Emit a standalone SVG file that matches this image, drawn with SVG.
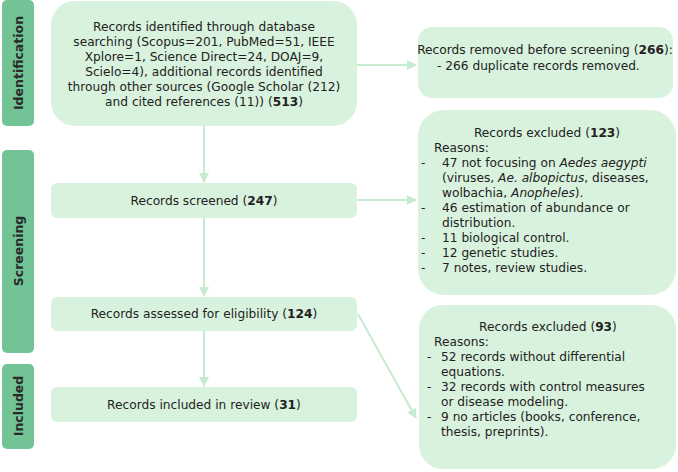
<svg xmlns="http://www.w3.org/2000/svg" width="678" height="472" viewBox="0 0 678 472">
<style>
.box{fill:#d9f2de}
.side{fill:#72c497}
text{font-family:"DejaVu Sans","Liberation Sans",sans-serif;font-size:12.2px;fill:#222}
.c{text-anchor:middle}
.s{font-weight:bold;font-size:12.5px;fill:#2a2a2a;text-anchor:middle}
.con{stroke:#c6ecd0;stroke-width:2;fill:none;marker-end:url(#ah)}
</style>
<defs><marker id="ah" viewBox="0 0 10 10" refX="9" refY="5" markerWidth="5" markerHeight="5" orient="auto"><path d="M0,0L10,5L0,10z" fill="#c6ecd0"/></marker></defs>
<g id="side-identification"><rect class="side" x="2" y="0" width="32" height="126" rx="5"/><text class="s" transform="translate(23,63) rotate(-90)">Identification</text></g>
<g id="side-screening"><rect class="side" x="2" y="150" width="32" height="203" rx="5"/><text class="s" transform="translate(23,251) rotate(-90)">Screening</text></g>
<g id="side-included"><rect class="side" x="2" y="364" width="32" height="85" rx="5"/><text class="s" transform="translate(23,406) rotate(-90)">Included</text></g>
<g id="connectors">
<path class="con" d="M204,126V182"/>
<path class="con" d="M204,218V296"/>
<path class="con" d="M204,331V386"/>
<path class="con" d="M357,65H416"/>
<path class="con" d="M357,200H416"/>
<path class="con" d="M358,314L416,418"/>
</g>
<g id="identified"><rect class="box" x="51" y="1" width="306" height="125" rx="24"/>
<text class="c" x="204" y="31">Records identified through database</text>
<text class="c" x="204" y="46">searching (Scopus=201, PubMed=51, IEEE</text>
<text class="c" x="204" y="61">Xplore=1, Science Direct=24, DOAJ=9,</text>
<text class="c" x="204" y="76">Scielo=4), additional records identified</text>
<text class="c" x="204" y="91">through other sources (Google Scholar (212)</text>
<text class="c" x="204" y="106">and cited references (11)) (<tspan font-weight="bold">513</tspan>)</text></g>
<g id="removed"><rect class="box" x="418" y="27" width="255" height="71" rx="14"/>
<text class="c" x="545" y="54">Records removed before screening (<tspan font-weight="bold">266</tspan>):</text>
<text x="437" y="70">-  266 duplicate records removed.</text></g>
<g id="screened"><rect class="box" x="51" y="183" width="306" height="35" rx="6"/>
<text class="c" x="204" y="205">Records screened (<tspan font-weight="bold">247</tspan>)</text></g>
<g id="excluded123"><rect class="box" x="418" y="110" width="258" height="185" rx="26"/>
<text class="c" x="547" y="137">Records excluded (<tspan font-weight="bold">123</tspan>)</text>
<text x="434" y="152">Reasons:</text>
<text x="421" y="167">-</text><text x="442" y="167">47 not focusing on <tspan font-style="italic">Aedes aegypti</tspan></text>
<text x="442" y="182">(viruses, <tspan font-style="italic">Ae. albopictus</tspan>, diseases,</text>
<text x="442" y="197">wolbachia, <tspan font-style="italic">Anopheles</tspan>).</text>
<text x="421" y="212">-</text><text x="442" y="212">46 estimation of abundance or</text>
<text x="442" y="227">distribution.</text>
<text x="421" y="242">-</text><text x="442" y="242">11 biological control.</text>
<text x="421" y="257">-</text><text x="442" y="257">12 genetic studies.</text>
<text x="421" y="272">-</text><text x="442" y="272">7 notes, review studies.</text></g>
<g id="eligibility"><rect class="box" x="51" y="297" width="306" height="34" rx="6"/>
<text class="c" x="204" y="318">Records assessed for eligibility (<tspan font-weight="bold">124</tspan>)</text></g>
<g id="included"><rect class="box" x="51" y="387" width="306" height="35" rx="6"/>
<text class="c" x="204" y="409">Records included in review (<tspan font-weight="bold">31</tspan>)</text></g>
<g id="excluded93"><rect class="box" x="419" y="305" width="257" height="164" rx="24"/>
<text class="c" x="548" y="331">Records excluded (<tspan font-weight="bold">93</tspan>)</text>
<text x="434" y="346">Reasons:</text>
<text x="427" y="361">-</text><text x="441" y="361">52 records without differential</text>
<text x="441" y="376">equations.</text>
<text x="427" y="391">-</text><text x="441" y="391">32 records with control measures</text>
<text x="441" y="406">or disease modeling.</text>
<text x="427" y="421">-</text><text x="441" y="421">9 no articles (books, conference,</text>
<text x="441" y="436">thesis, preprints).</text></g>
</svg>
